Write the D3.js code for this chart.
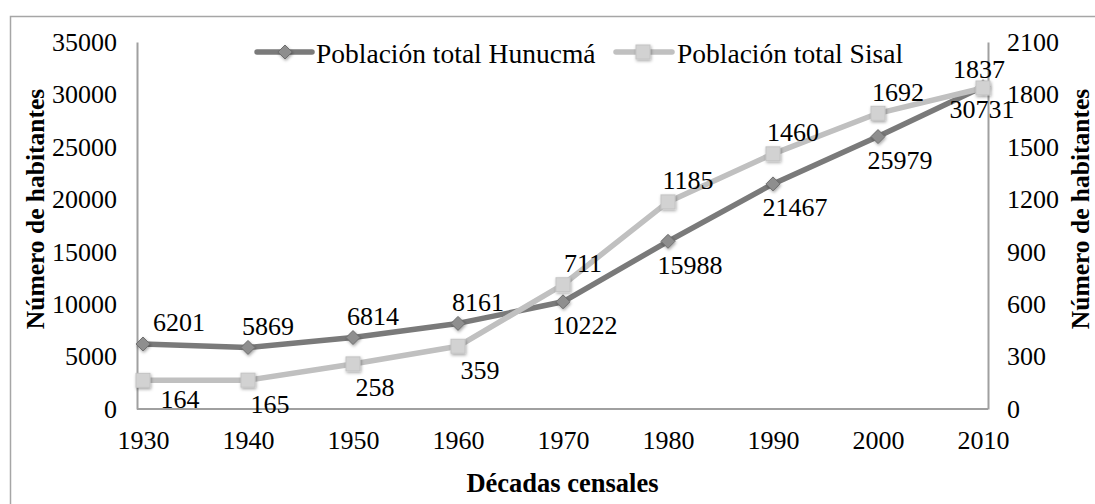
<!DOCTYPE html>
<html>
<head>
<meta charset="utf-8">
<script src="https://cdn.jsdelivr.net/npm/d3@7"></script>
<style>
  html, body { margin: 0; padding: 0; background: #fff; }
  svg { display: block; }
  text { font-family: "Liberation Serif", "Times New Roman", serif; fill: #000; }
</style>
</head>
<body>
<svg id="chart" width="1095" height="504"></svg>
<script>
// ---- data ----
const decades = [1930, 1940, 1950, 1960, 1970, 1980, 1990, 2000, 2010];
const hunucma = [6201, 5869, 6814, 8161, 10222, 15988, 21467, 25979, 30731];
const sisal = [164, 165, 258, 359, 711, 1185, 1460, 1692, 1837];
const leftTicks = [0, 5000, 10000, 15000, 20000, 25000, 30000, 35000];
const rightTicks = [0, 300, 600, 900, 1200, 1500, 1800, 2100];
const seriesNames = ["Población total Hunucmá", "Población total Sisal"];
const yTitle = "Número de habitantes";
const xTitle = "Décadas censales";
// label placement codes (layout, not data)
const hunLabelPos = ["ar1", "ar", "ar", "ar", "br", "br", "br", "br", "b"];
const sisLabelPos = ["br1", "br", "br", "br", "ar", "ar", "ar", "ar", "a"];

const svg = d3.select("#chart");
const plot = { left: 137, right: 988, top: 42, bottom: 409 };

// outer frame
svg.append("rect").attr("x", 10.5).attr("y", 16.5).attr("width", 1100).attr("height", 520)
  .attr("fill", "none").attr("stroke", "#a6a6a6").attr("stroke-width", 1.5);

const x = d3.scaleLinear().domain([1930, 2010]).range([143, 983]);
const yL = d3.scaleLinear().domain([0, 35000]).range([plot.bottom, plot.top]);
const yR = d3.scaleLinear().domain([0, 2100]).range([plot.bottom, plot.top]);

const defs = svg.append("defs");
const f = defs.append("filter").attr("id", "shadow").attr("x", "-50%").attr("y", "-50%").attr("width", "200%").attr("height", "200%");
f.append("feDropShadow").attr("dx", 0.8).attr("dy", 1.5).attr("stdDeviation", 1.4).attr("flood-color", "#000").attr("flood-opacity", 0.35);

const axisColor = "#a0a0a0";
const tickFont = 26;
const labelFont = 26;
const legendFont = 27.5;
const titleFont = 25.5;

// left axis
const gL = svg.append("g").attr("transform", `translate(${plot.left},0)`)
  .call(d3.axisLeft(yL).tickValues(leftTicks).tickSize(0).tickPadding(20).tickFormat(d3.format("d")));
gL.select(".domain").attr("stroke", axisColor).attr("stroke-width", 2);
gL.selectAll("text").style("font-family", "Liberation Serif").style("font-size", tickFont + "px");

// right axis
const gR = svg.append("g").attr("transform", `translate(${plot.right},0)`)
  .call(d3.axisRight(yR).tickValues(rightTicks).tickSize(0).tickPadding(19).tickFormat(d3.format("d")));
gR.select(".domain").attr("stroke", axisColor).attr("stroke-width", 2);
gR.selectAll("text").style("font-family", "Liberation Serif").style("font-size", tickFont + "px");

// bottom axis
const gB = svg.append("g").attr("transform", `translate(0,${plot.bottom})`)
  .call(d3.axisBottom(x).tickValues(decades).tickSize(0).tickPadding(22).tickFormat(d3.format("d")));
gB.select(".domain").remove();
gB.append("line").attr("x1", plot.left).attr("x2", plot.right).attr("stroke", axisColor).attr("stroke-width", 2);
gB.selectAll("text").style("font-family", "Liberation Serif").style("font-size", tickFont + "px");

// titles
svg.append("text").attr("transform", `translate(35,${(88 + 330) / 2}) rotate(-90)`)
  .attr("text-anchor", "middle").attr("dominant-baseline", "central")
  .style("font-weight", "bold").style("font-size", titleFont + "px").text(yTitle);
svg.append("text").attr("transform", `translate(1080,${(88 + 330) / 2}) rotate(-90)`)
  .attr("text-anchor", "middle").attr("dominant-baseline", "central")
  .style("font-weight", "bold").style("font-size", titleFont + "px").text(yTitle);
svg.append("text").attr("x", (467 + 658) / 2).attr("y", 483)
  .attr("text-anchor", "middle").attr("dominant-baseline", "central")
  .style("font-weight", "bold").style("font-size", (titleFont + 1) + "px").text(xTitle);

const hunColor = "#7a7a7a", sisColor = "#c0c0c0";

// markers
function square(g, cx, cy) {
  g.append("rect").attr("x", cx - 7).attr("y", cy - 7).attr("width", 14).attr("height", 14)
    .attr("fill", "#d2d2d2").attr("stroke", "#c4c4c4").attr("stroke-width", 1).attr("filter", "url(#shadow)");
}
function diamond(g, cx, cy) {
  g.append("path").attr("d", `M${cx},${cy - 7}L${cx + 7},${cy}L${cx},${cy + 7}L${cx - 7},${cy}Z`)
    .attr("fill", "#8e8e8e").attr("stroke", "#6e6e6e").attr("stroke-width", 1).attr("filter", "url(#shadow)");
}

// Hunucmá series (primary axis), drawn first
const lineH = d3.line().x((d, i) => x(decades[i])).y(d => yL(d));
svg.append("path").datum(hunucma).attr("d", lineH).attr("fill", "none")
  .attr("stroke", hunColor).attr("stroke-width", 5.5).attr("stroke-linejoin", "round");
const mH = svg.append("g");
hunucma.forEach((v, i) => diamond(mH, x(decades[i]), yL(v)));

// Sisal series (secondary axis), drawn on top
const lineS = d3.line().x((d, i) => x(decades[i])).y(d => yR(d));
svg.append("path").datum(sisal).attr("d", lineS).attr("fill", "none")
  .attr("stroke", sisColor).attr("stroke-width", 5.5).attr("stroke-linejoin", "round");
const mS = svg.append("g");
sisal.forEach((v, i) => square(mS, x(decades[i]), yR(v)));

// data labels
function offset(code) {
  switch (code) {
    case "ar1": return [36, -21];
    case "br1": return [37, 19];
    case "ar": return [20, -21];
    case "br": return [22, 24];
    case "a": return [-4, -18];
    case "b": return [-1, 23];
  }
  return [0, 0];
}
const lab = svg.append("g").style("font-size", labelFont + "px");
hunucma.forEach((v, i) => {
  const [dx, dy] = offset(hunLabelPos[i]);
  lab.append("text").attr("x", x(decades[i]) + dx).attr("y", yL(v) + dy)
    .attr("text-anchor", "middle").attr("dominant-baseline", "central").text(v);
});
sisal.forEach((v, i) => {
  const [dx, dy] = offset(sisLabelPos[i]);
  lab.append("text").attr("x", x(decades[i]) + dx).attr("y", yR(v) + dy)
    .attr("text-anchor", "middle").attr("dominant-baseline", "central").text(v);
});

// legend
const leg = svg.append("g");
leg.append("line").attr("x1", 257).attr("x2", 312).attr("y1", 52).attr("y2", 52)
  .attr("stroke", hunColor).attr("stroke-width", 5.5).attr("stroke-linecap", "round");
diamond(leg, 285, 52);
leg.append("text").attr("x", 316).attr("y", 53).attr("dominant-baseline", "central")
  .style("font-size", legendFont + "px").text(seriesNames[0]);
leg.append("line").attr("x1", 616).attr("x2", 672).attr("y1", 52).attr("y2", 52)
  .attr("stroke", sisColor).attr("stroke-width", 5.5).attr("stroke-linecap", "round");
square(leg, 643, 52);
leg.append("text").attr("x", 677).attr("y", 53).attr("dominant-baseline", "central")
  .style("font-size", legendFont + "px").text(seriesNames[1]);
</script>
</body>
</html>
